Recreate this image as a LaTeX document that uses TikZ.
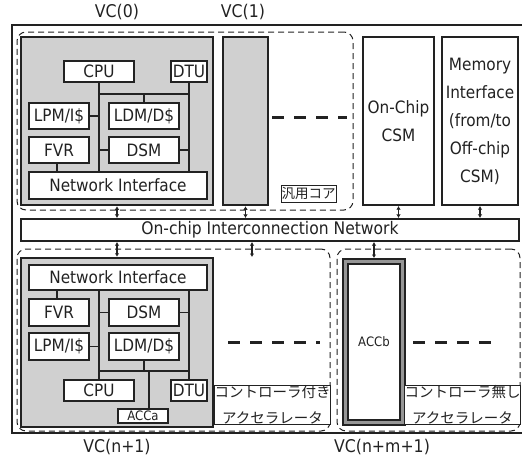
\documentclass[tikz,border=0pt]{standalone}
\usepackage{fontspec}
\setmainfont{DejaVu Sans}[FakeStretch=0.9]
\newfontfamily\jp{Noto Sans CJK JP}
\usetikzlibrary{arrows.meta}
\definecolor{gfill}{RGB}{208,208,208}
\definecolor{ink}{RGB}{34,34,34}
\definecolor{ring}{RGB}{150,150,150}
\newcommand{\mybox}[7]{\node[#6, minimum width={#4-#2}, minimum height={#5-#3}] (#1) at ({(#2+#4)/2},{(#3+#5)/2}) {#7};}
\begin{document}
\begin{tikzpicture}[x=1pt,y=-1pt,
  box/.style={draw=ink, line width=2.2pt, fill=white, inner sep=0pt, text=ink, font=\fontsize{17}{20}\selectfont},
  vcbox/.style={draw=ink, line width=2.5pt, fill=gfill, inner sep=0pt},
  big/.style={box, align=center, font=\fontsize{17}{28}\selectfont},
  lbl/.style={draw=ink, line width=0.8pt, fill=white, inner sep=0pt, text=ink, align=center},
  region/.style={draw=ink, line width=1pt, dash pattern=on 6pt off 4pt, rounded corners=9pt, inner sep=0pt},
  wire/.style={draw=ink, line width=1.8pt},
  ell/.style={draw=ink, line width=3pt, dash pattern=on 12pt off 10pt},
  bidir/.style={draw=ink, line width=1.4pt, {Latex[length=3.5pt,width=4.5pt]}-{Latex[length=3.5pt,width=4.5pt]}},
  vclab/.style={text=ink, font=\fontsize{17.5}{20}\selectfont, inner sep=0pt}]
\useasboundingbox (0,0) rectangle (522,456);
% outer frame
\draw[ink, line width=2pt] (12,25) rectangle (524,433);
% regions
\mybox{topreg}{17}{32}{353}{210}{region}{}
\mybox{blreg}{17}{249}{330}{431}{region}{}
\mybox{brreg}{337}{249}{520}{431}{region}{}
% ---------- VC(0)
\mybox{vc0}{21}{37}{213}{205}{vcbox}{}
\mybox{cpuT}{64}{61}{134}{82}{box}{CPU}
\mybox{dtuT}{171}{61}{207}{82}{box}{DTU}
\mybox{lpmT}{29}{103}{89}{129}{box}{LPM/I\$}
\mybox{ldmT}{109}{103}{179}{129}{box}{LDM/D\$}
\mybox{fvrT}{29}{137}{89}{163}{box}{FVR}
\mybox{dsmT}{109}{137}{179}{163}{box}{DSM}
\mybox{niT}{29}{172}{207}{199}{box}{Network Interface}
\coordinate (busT) at ([yshift=8pt]ldmT.north);
\coordinate (fvrBot) at ([xshift=-2pt]fvrT.south);
\draw[wire] (cpuT.south) -- (cpuT.south |- niT.north);
\draw[wire] (dtuT.south) -- (dtuT.south |- niT.north);
\draw[wire] (busT -| cpuT.south) -- (busT -| dtuT.south);
\draw[wire] (ldmT.north) -- (busT);
\draw[wire] (lpmT.east) -- (lpmT.east -| cpuT.south);
\draw[wire] (dsmT.west) -- (dsmT.west -| cpuT.south);
\draw[wire] (dsmT.east) -- (dsmT.east -| dtuT.south);
\draw[wire] (fvrBot) -- (fvrBot |- niT.north);
% ---------- VC(1)
\mybox{vc1}{223}{37}{268}{205}{vcbox}{}
\draw[ell] (272,117) -- (347,117);
\mybox{genlbl}{281}{185}{336}{202}{lbl, font=\jp\fontsize{13.5}{15}\selectfont}{汎用コア}
% ---------- CSM / memory
\mybox{csm}{363}{37}{434}{205}{big}{On-Chip\\CSM}
\mybox{mem}{442}{37}{518}{205}{big}{Memory\\Interface\\(from/to\\Off-chip\\CSM)}
% ---------- NoC
\mybox{noc}{21}{219}{519}{241}{box, font=\fontsize{17.3}{20}\selectfont}{On-chip Interconnection Network}
\draw[bidir] (vc0.south) -- (vc0.south |- noc.north);
\draw[bidir] (vc1.south) -- (vc1.south |- noc.north);
\draw[bidir] (csm.south) -- (csm.south |- noc.north);
\draw[bidir] (mem.south) -- (mem.south |- noc.north);
% ---------- VC(n+1)
\mybox{vcn}{21}{258}{213}{427}{vcbox}{}
\mybox{niB}{29}{265}{207}{290}{box}{Network Interface}
\mybox{fvrB}{29}{299}{89}{326}{box}{FVR}
\mybox{dsmB}{109}{299}{179}{326}{box}{DSM}
\mybox{lpmB}{29}{333}{89}{360}{box}{LPM/I\$}
\mybox{ldmB}{109}{333}{179}{360}{box}{LDM/D\$}
\mybox{cpuB}{64}{380}{134}{401}{box}{CPU}
\mybox{dtuB}{171}{380}{207}{401}{box}{DTU}
\mybox{accA}{118}{409}{168}{423}{box, line width=1.8pt, font=\fontsize{13}{14}\selectfont}{ACCa}
\coordinate (busB) at ([yshift=-10pt]ldmB.south);
\coordinate (accTop) at ([xshift=6pt]accA.north);
\coordinate (fvrTop) at ([xshift=-2pt]fvrB.north);
\draw[wire] (niB.south -| cpuB.north) -- (cpuB.north);
\draw[wire] (niB.south -| dtuB.north) -- (dtuB.north);
\draw[wire] (busB -| cpuB.north) -- (busB -| dtuB.north);
\draw[wire] (ldmB.south) -- (busB);
\draw[wire] (accTop |- busB) -- (accTop);
\draw[wire] (fvrTop) -- (fvrTop |- niB.south);
\draw[wire] (dsmB.west) -- (dsmB.west -| cpuB.north);
\draw[wire] (dsmB.east) -- (dsmB.east -| dtuB.north);
\draw[wire] (lpmB.east) -- (lpmB.east -| cpuB.north);
\draw[ell] (228,342) -- (320,342);
\mybox{ctlA}{218}{385}{327}{424}{lbl, font=\jp\fontsize{14.5}{26}\selectfont}{コントローラ付き\\アクセラレータ}
% ---------- ACCb
\mybox{accB}{345.5}{261.5}{402.5}{422.5}{draw=ink, line width=7pt, outer sep=0pt, fill=white, inner sep=0pt, text=ink, font=\fontsize{13}{14}\selectfont}{ACCb}
\draw[ring, line width=3pt] (accB.south west) rectangle (accB.north east);
\draw[ell] (413,342) -- (492,342);
\mybox{ctlB}{408}{385}{517}{424}{lbl, font=\jp\fontsize{14.5}{26}\selectfont}{コントローラ無し\\アクセラレータ}
\coordinate (dotsArrow) at (252,257);
\draw[bidir] (noc.south -| vcn.north) -- (vcn.north);
\draw[bidir] (noc.south -| dotsArrow) -- (dotsArrow);
\draw[bidir] (noc.south -| accB.north) -- ([yshift=3.5pt]accB.north);
% ---------- labels
\node[vclab] (l0) at (117,12) {VC(0)};
\node[vclab] (l1) at (243,12) {VC(1)};
\node[vclab] (l2) at (117,447) {VC(n+1)};
\node[vclab] (l3) at (382,447) {VC(n+m+1)};
\end{tikzpicture}
\end{document}
